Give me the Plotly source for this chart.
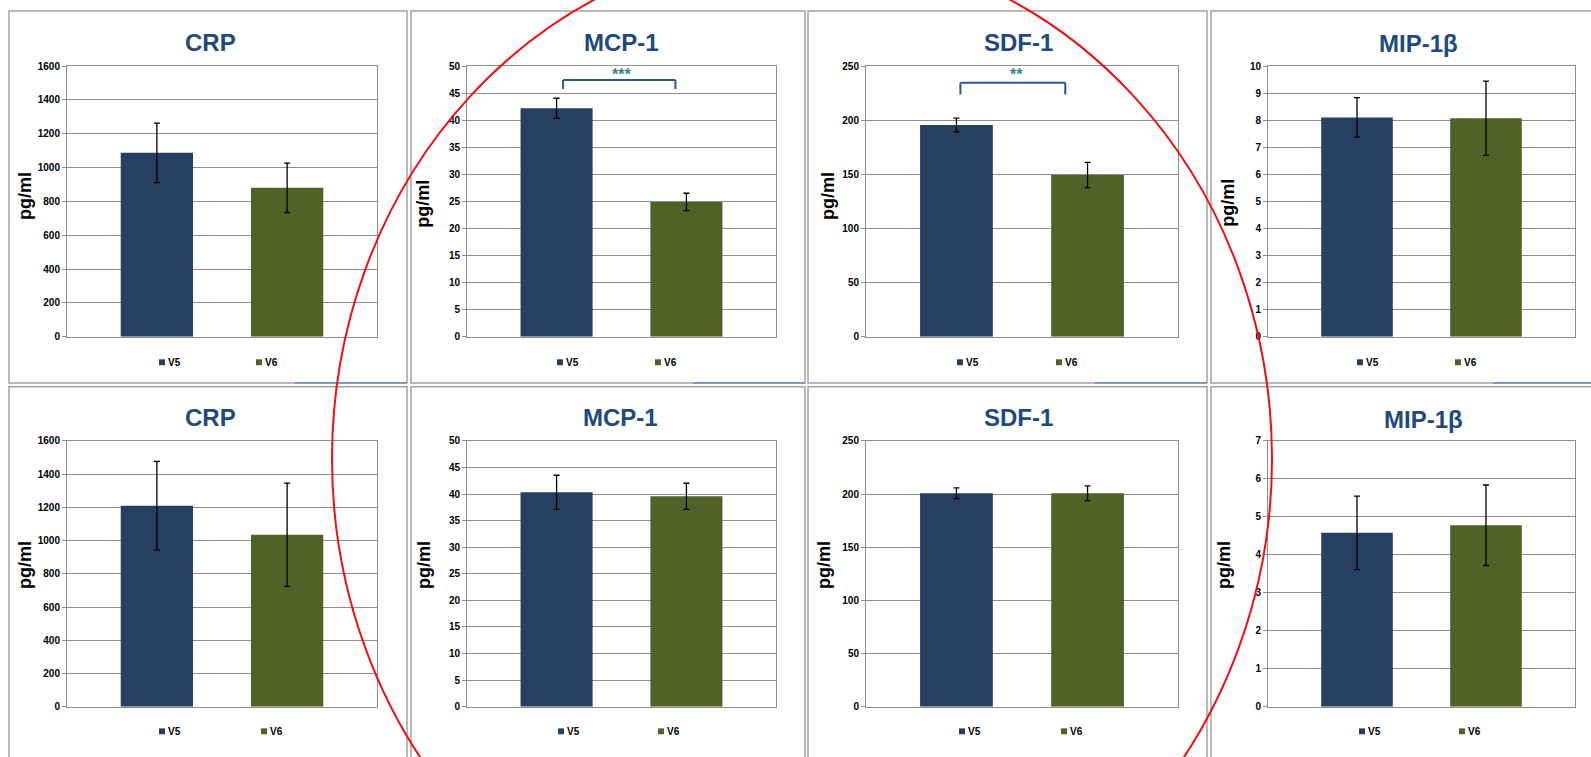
import plotly.graph_objects as go

# ---------------- data ----------------
visits = ["V5", "V6"]
analytes = ["CRP", "MCP-1", "SDF-1", "MIP-1β"]

# top row (means and error half-widths, pg/ml)
crp_top = [1087, 880]
crp_top_err = [176, 146]
mcp_top = [42.2, 24.9]
mcp_top_err = [1.85, 1.6]
sdf_top = [195.5, 149.3]
sdf_top_err = [6.3, 11.7]
mip_top = [8.1, 8.07]
mip_top_err = [0.73, 1.37]

# bottom row
crp_bot = [1210, 1035]
crp_bot_err = [267, 311]
mcp_bot = [40.35, 39.6]
mcp_bot_err = [3.2, 2.45]
sdf_bot = [200.8, 200.8]
sdf_bot_err = [5.1, 7.0]
mip_bot = [4.58, 4.78]
mip_bot_err = [0.97, 1.06]

# axis scales per panel
y_max_top = [1600, 50, 250, 10]
y_max_bot = [1600, 50, 250, 7]
y_step = [200, 5, 50, 1]

# significance marks (top row only): panel index -> stars
sig_stars = {1: "***", 2: "**"}

rows = [
    [(crp_top, crp_top_err), (mcp_top, mcp_top_err), (sdf_top, sdf_top_err), (mip_top, mip_top_err)],
    [(crp_bot, crp_bot_err), (mcp_bot, mcp_bot_err), (sdf_bot, sdf_bot_err), (mip_bot, mip_bot_err)],
]
y_max_rows = [y_max_top, y_max_bot]

# ---------------- styling / geometry ----------------
W, H = 1591, 757
FONT = "Liberation Sans, Arial, sans-serif"
C_V5 = "#273F60"
C_V6 = "#4F6228"
C_TITLE = "#21497C"
C_GRID = "#8E8E8E"
C_FRAME = "#A3A3A3"
C_BRACKET = "#2B5597"
C_STARS = "#3E7E8C"

col_plot = [(67, 377), (467, 776), (866, 1178), (1268, 1575)]
row_plot = [(61, 336), (442, 712)]
col_box = [(9, 407), (411, 805), (808, 1207), (1211, 1610)]
row_box = [(5, 383), (387, 790)]
title_pos = [[(210, 37), (621, 37), (1018, 37), (1418, 38)],
             [(210, 418), (620, 418), (1018, 418), (1423, 420)]]
ylab_pos = [[(25, 193), (423, 201), (828, 193), (1228, 200)],
            [(25, 568), (424, 568), (824, 568), (1224, 568)]]
legend_y = [362, 737]
legend_x = [[(159, 256), (557, 655), (957, 1056), (1357, 1455)],
            [(159, 261), (558, 658), (959, 1061), (1359, 1459)]]
X_RANGE = [-0.69, 1.69]
BAR_W = 0.555

# bracket geometry for significance (category units / data units)
bracket = {1: dict(x0=0.05, x1=0.915, top=47.4, end=45.75, star_x=0.50, star_y=48.5),
           2: dict(x0=0.03, x1=0.83, top=234.5, end=223.6, star_x=0.46, star_y=242.5)}


def fx(px):
    return px / W


def fy(py):
    return 1 - py / H


fig = go.Figure()
layout = dict(
    width=W, height=H,
    margin=dict(l=0, r=0, t=0, b=0),
    paper_bgcolor="white", plot_bgcolor="white",
    showlegend=False,
    font=dict(family=FONT, color="black"),
)
shapes = []
annotations = []

# panel frames
for r, (yb0, yb1) in enumerate(row_box):
    for c, (xb0, xb1) in enumerate(col_box):
        shapes.append(dict(type="rect", xref="paper", yref="paper",
                           x0=fx(xb0), x1=fx(xb1), y0=fy(yb1), y1=fy(yb0),
                           line=dict(color=C_FRAME, width=1.5), layer="below"))
# selection strip along the lower edge of the top frames
for (a, b) in [(295, 407), (693, 805), (1095, 1207), (1493, 1591)]:
    shapes.append(dict(type="line", xref="paper", yref="paper",
                       x0=fx(a), x1=fx(b), y0=fy(383), y1=fy(383),
                       line=dict(color="#5B86BE", width=1.2)))

idx = 0
for r in range(2):
    for c in range(4):
        idx += 1
        xa = "x" if idx == 1 else f"x{idx}"
        ya = "y" if idx == 1 else f"y{idx}"
        xkey = "xaxis" if idx == 1 else f"xaxis{idx}"
        ykey = "yaxis" if idx == 1 else f"yaxis{idx}"
        vals, errs = rows[r][c]
        ymax = y_max_rows[r][c]

        fig.add_trace(go.Bar(
            x=visits, y=vals, xaxis=xa, yaxis=ya, width=BAR_W,
            marker=dict(color=[C_V5, C_V6], line=dict(width=0)),
            error_y=dict(type="data", array=errs, color="black",
                         thickness=1.3, width=3),
            hoverinfo="x+y",
        ))

        px0, px1 = col_plot[c]
        py0, py1 = row_plot[r]
        layout[xkey] = dict(
            domain=[fx(px0), fx(px1)], anchor=ya, type="category",
            range=X_RANGE, showticklabels=False, ticks="",
            showline=True, linecolor=C_GRID, linewidth=1, mirror=True,
            showgrid=False, zeroline=False, fixedrange=True,
        )
        layout[ykey] = dict(
            domain=[fy(py1), fy(py0)], anchor=xa,
            range=[0, ymax], dtick=y_step[c], tick0=0,
            showgrid=True, gridcolor=C_GRID, gridwidth=1,
            showline=True, linecolor=C_GRID, linewidth=1, mirror=True,
            ticks="outside", ticklen=4, tickcolor=C_GRID,
            tickfont=dict(family=FONT, size=10, color="black", weight="bold"),
            zeroline=False, fixedrange=True,
        )

        # panel title
        tx, ty = title_pos[r][c]
        annotations.append(dict(text=analytes[c], xref="paper", yref="paper",
                                x=fx(tx), y=fy(ty), xanchor="center", yanchor="middle",
                                showarrow=False,
                                font=dict(family=FONT, size=24, color=C_TITLE, weight="bold")))
        # axis label
        lx, ly = ylab_pos[r][c]
        annotations.append(dict(text="pg/ml", xref="paper", yref="paper",
                                x=fx(lx), y=fy(ly), xanchor="center", yanchor="middle",
                                textangle=-90, showarrow=False,
                                font=dict(family=FONT, size=18, color="black", weight="bold")))
        # legend entries
        for k, (name, colr) in enumerate(zip(visits, [C_V5, C_V6])):
            mx = legend_x[r][c][k]
            my = legend_y[r]
            shapes.append(dict(type="rect", xref="paper", yref="paper",
                               x0=fx(mx), x1=fx(mx + 6), y0=fy(my + 3), y1=fy(my - 3),
                               fillcolor=colr, line=dict(width=0)))
            annotations.append(dict(text=name, xref="paper", yref="paper",
                                    x=fx(mx + 6.5), y=fy(my), xanchor="left", yanchor="middle",
                                    showarrow=False,
                                    font=dict(family=FONT, size=10, color="black", weight="bold")))

        # significance bracket
        if r == 0 and c in sig_stars:
            b = bracket[c]
            for (x0, y0, x1, y1) in [(b["x0"], b["end"], b["x0"], b["top"]),
                                     (b["x0"], b["top"], b["x1"], b["top"]),
                                     (b["x1"], b["top"], b["x1"], b["end"])]:
                shapes.append(dict(type="line", xref=xa, yref=ya,
                                   x0=x0, y0=y0, x1=x1, y1=y1,
                                   line=dict(color=C_BRACKET, width=2)))
            annotations.append(dict(text=sig_stars[c], xref=xa, yref=ya,
                                    x=b["star_x"], y=b["star_y"],
                                    xanchor="center", yanchor="middle", showarrow=False,
                                    font=dict(family=FONT, size=16, color=C_STARS, weight="bold")))

# hand-drawn red ellipse highlighting the middle columns
cx, cy, ax_, by_ = 802, 460, 470, 520
shapes.append(dict(type="circle", xref="paper", yref="paper",
                   x0=fx(cx - ax_), x1=fx(cx + ax_), y0=fy(cy + by_), y1=fy(cy - by_),
                   line=dict(color="#F01010", width=2)))

layout["shapes"] = shapes
layout["annotations"] = annotations
fig.update_layout(**layout)
fig.write_html("out.html")
